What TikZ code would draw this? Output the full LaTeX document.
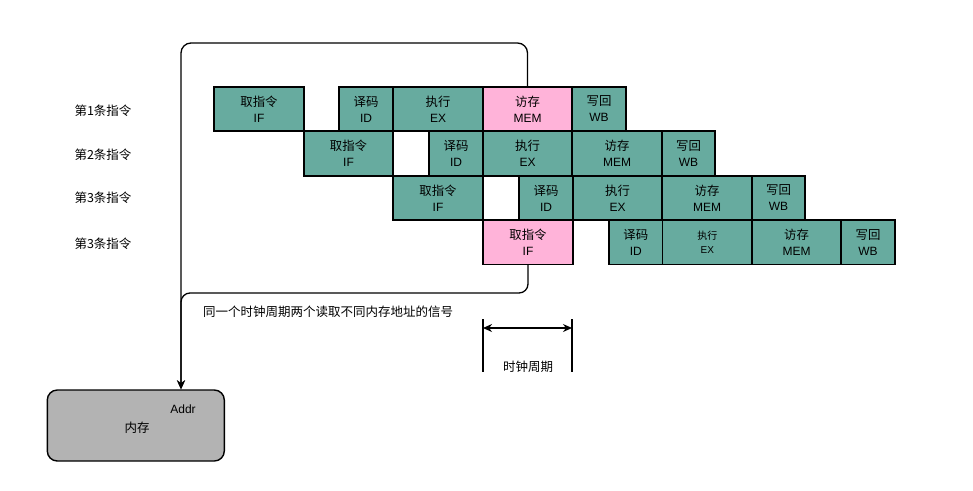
\documentclass[tikz,border=0pt]{standalone}
\usepackage{fontspec}
\setmainfont{Liberation Sans}
\newfontfamily\cjk{Noto Sans CJK SC}
\usetikzlibrary{arrows.meta}
\definecolor{stagegreen}{HTML}{67AB9F}
\definecolor{stagepink}{HTML}{FFB3D9}
\definecolor{memgray}{HTML}{B3B3B3}
\tikzset{
  stagebox/.style={draw=black, line width=1.4pt, fill=stagegreen, inner sep=0pt, align=center, font=\fontsize{12}{16}\selectfont},
  pinkbox/.style={stagebox, fill=stagepink},
  smalltext/.style={font=\fontsize{10}{13.5}\selectfont},
  conn/.style={draw=black, line width=1.3pt, -{Stealth[length=9pt,width=8pt]}},
  lbl/.style={inner sep=0pt, font=\cjk\fontsize{12.5}{15}\selectfont},
  membox/.style={draw=black, line width=1.4pt, fill=memgray, rounded corners=10pt, minimum width=177pt, minimum height=71pt, inner sep=0pt},
}
\newcommand\cj[1]{{\cjk\fontsize{12.4}{16}\selectfont #1}}
\begin{document}
\begin{tikzpicture}[x=1pt,y=-1pt]
\useasboundingbox[fill=white] (0,0) rectangle (973,490);

% row labels
\node[lbl] (l1) at (103,111) {第1条指令};
\node[lbl] (l2) at (103,155) {第2条指令};
\node[lbl] (l3) at (103,198) {第3条指令};
\node[lbl] (l4) at (103,244) {第3条指令};

% row 1
\node[stagebox, minimum width=90pt, minimum height=44pt] (if1) at (259,109) {\cj{取指令}\\IF};
\node[stagebox, minimum width=54pt, minimum height=44pt] (id1) at (366,109) {\cj{译码}\\ID};
\node[stagebox, minimum width=90pt, minimum height=44pt] (ex1) at (438,109) {\cj{执行}\\EX};
\node[pinkbox, minimum width=89pt, minimum height=44pt] (mem1) at (527.5,109) {\cj{访存}\\MEM};
\node[stagebox, minimum width=54pt, minimum height=44pt] (wb1) at (599,109) {\cj{写回}\\WB};

% row 2
\node[stagebox, minimum width=89pt, minimum height=45pt] (if2) at (348.5,153.5) {\cj{取指令}\\IF};
\node[stagebox, minimum width=54pt, minimum height=45pt] (id2) at (456,153.5) {\cj{译码}\\ID};
\node[stagebox, minimum width=89pt, minimum height=45pt] (ex2) at (527.5,153.5) {\cj{执行}\\EX};
\node[stagebox, minimum width=90pt, minimum height=45pt] (mem2) at (617,153.5) {\cj{访存}\\MEM};
\node[stagebox, minimum width=53pt, minimum height=45pt] (wb2) at (688.5,153.5) {\cj{写回}\\WB};

% row 3
\node[stagebox, minimum width=90pt, minimum height=44pt] (if3) at (438,198) {\cj{取指令}\\IF};
\node[stagebox, minimum width=54pt, minimum height=44pt] (id3) at (546,198) {\cj{译码}\\ID};
\node[stagebox, minimum width=89pt, minimum height=44pt] (ex3) at (617.5,198) {\cj{执行}\\EX};
\node[stagebox, minimum width=90pt, minimum height=44pt] (mem3) at (707,198) {\cj{访存}\\MEM};
\node[stagebox, minimum width=53pt, minimum height=44pt] (wb3) at (778.5,198) {\cj{写回}\\WB};

% row 4
\node[pinkbox, minimum width=90pt, minimum height=44.5pt] (if4) at (528,242.25) {\cj{取指令}\\IF};
\node[stagebox, minimum width=53.5pt, minimum height=44.5pt] (id4) at (635.75,242.25) {\cj{译码}\\ID};
\node[stagebox, smalltext, minimum width=89.5pt, minimum height=44.5pt] (ex4) at (707.25,242.25) {{\cjk 执行}\\EX};
\node[stagebox, minimum width=89pt, minimum height=44.5pt] (mem4) at (796.5,242.25) {\cj{访存}\\MEM};
\node[stagebox, minimum width=54pt, minimum height=44.5pt] (wb4) at (868,242.25) {\cj{写回}\\WB};

% memory
\node[membox] (mem) at (135.8,425.5) {};
\node[inner sep=0pt, font=\fontsize{12}{15}\selectfont] (addr) at (183,409) {Addr};
\node[lbl] (memtxt) at (137,427.5) {内存};

% connectors
\coordinate (tl) at (181,43);
\coordinate (bl) at (181,293);
\draw[conn, rounded corners=10pt] (mem1.north) |- (tl) -- (tl |- mem.north);
\draw[conn, rounded corners=9pt] (if4.south) |- (bl) -- (bl |- mem.north);

\node[lbl] (sig) at (328,311.5) {同一个时钟周期两个读取不同内存地址的信号};

% clock period
\coordinate (ckl1) at (483,319);
\coordinate (ckl2) at (483,372);
\coordinate (ckr1) at (572,319);
\coordinate (ckr2) at (572,372);
\coordinate (cka) at (483,328);
\coordinate (ckb) at (572,328);
\draw[line width=1.3pt] (ckl1) -- (ckl2);
\draw[line width=1.3pt] (ckr1) -- (ckr2);
\draw[line width=1.3pt, {Stealth[length=9pt,width=8pt]}-{Stealth[length=9pt,width=8pt]}] (cka) -- (ckb);
\node[lbl] (cktxt) at (528,367) {时钟周期};
\end{tikzpicture}
\end{document}
